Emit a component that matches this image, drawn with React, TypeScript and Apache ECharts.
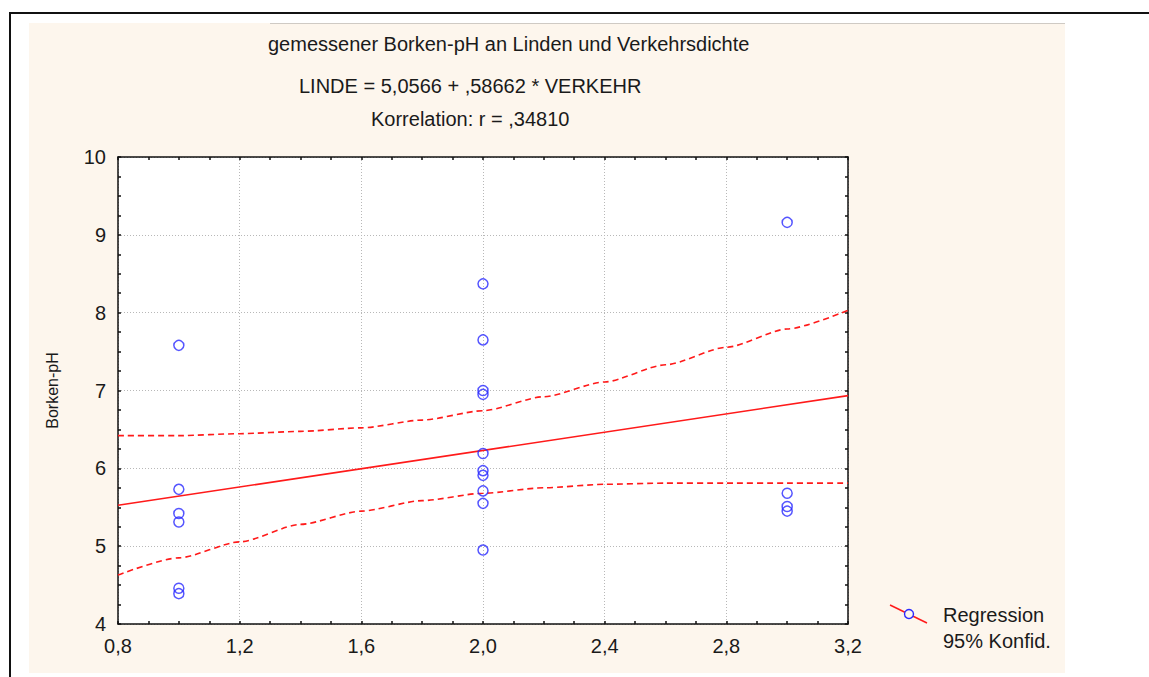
import React, { useEffect, useRef } from "react";
import * as echarts from "echarts";

// Header text
const titleLines = [
  "gemessener Borken-pH an Linden und Verkehrsdichte",
  "LINDE = 5,0566 + ,58662 * VERKEHR",
  "Korrelation: r = ,34810",
];

// Regression coefficients as printed in the header
const intercept = 5.0566;
const slope = 0.58662;

// Observations: traffic class vs. bark pH
const verkehr = [1, 1, 1, 1, 1, 1, 2, 2, 2, 2, 2, 2, 2, 2, 2, 2, 3, 3, 3, 3];
const borkenPH = [
  7.58, 5.73, 5.42, 5.31, 4.46, 4.39,
  8.37, 7.65, 7.0, 6.95, 6.19, 5.97, 5.91, 5.71, 5.55, 4.95,
  9.16, 5.68, 5.51, 5.45,
];

// 95% confidence band
const bandX = [0.8, 1.0, 1.2, 1.4, 1.6, 1.8, 2.0, 2.2, 2.4, 2.6, 2.8, 3.0, 3.2];
const bandUpper = [6.42, 6.42, 6.445, 6.475, 6.52, 6.62, 6.74, 6.92, 7.11, 7.33, 7.555, 7.79, 8.03];
const bandLower = [4.63, 4.85, 5.055, 5.28, 5.45, 5.585, 5.68, 5.75, 5.795, 5.81, 5.81, 5.81, 5.81];

// Axis ranges
const xRange = { min: 0.8, max: 3.2, step: 0.4 };
const yRange = { min: 4, max: 10, step: 1 };
const yAxisName = "Borken-pH";
const legendLabels = ["Regression", "95% Konfid."];

const FONT = '"Liberation Sans", Arial, sans-serif';
const RED = "#ff1a1a";
const BLUE = "#2a2aff";
const BEIGE = "#fdf6ed";
const INK = "#1a1a1a";

const fmtX = (v: number) => v.toFixed(1).replace(".", ",");

export default function App() {
  const ref = useRef<HTMLDivElement>(null);

  useEffect(() => {
    if (!ref.current) return;
    const chart = echarts.init(ref.current, undefined, { renderer: "svg" });

    const frameAxis = (extra: any) => ({
      type: "value",
      axisLine: { show: true, onZero: false, lineStyle: { color: "#111", width: 1.5 } },
      axisTick: { show: true, inside: true, length: 3, lineStyle: { color: "#111", width: 1.5 } },
      minorTick: { show: true, splitNumber: 4, length: 3, lineStyle: { color: "#111", width: 1.5 } },
      ...extra,
    });

    const option: any = {
      animation: false,
      backgroundColor: "#ffffff",
      title: titleLines.map((t, i) => ({
        text: t,
        left: [268, 299, 371][i],
        top: [34, 76, 109][i],
        padding: 0,
        textStyle: { fontSize: 20, fontWeight: "normal", color: INK, fontFamily: FONT },
      })),
      grid: {
        left: 118,
        right: 301,
        top: 157,
        bottom: 53,
        show: true,
        backgroundColor: "#ffffff",
        borderWidth: 0,
      },
      xAxis: [
        frameAxis({
          min: xRange.min,
          max: xRange.max,
          interval: xRange.step,
          position: "bottom",
          axisLabel: { formatter: fmtX, fontSize: 20, color: INK, margin: 12, fontFamily: FONT },
          splitLine: { show: true, lineStyle: { color: "#b8b8b8", type: [1, 2], width: 1 } },
        }),
        frameAxis({
          min: xRange.min,
          max: xRange.max,
          interval: xRange.step,
          position: "top",
          axisLabel: { show: false },
          splitLine: { show: false },
        }),
      ],
      yAxis: [
        frameAxis({
          min: yRange.min,
          max: yRange.max,
          interval: yRange.step,
          position: "left",
          name: yAxisName,
          nameLocation: "middle",
          nameRotate: 90,
          nameGap: 58,
          nameTextStyle: { fontSize: 16, color: INK, fontFamily: FONT },
          axisLabel: { fontSize: 20, color: INK, margin: 12, fontFamily: FONT },
          splitLine: { show: true, lineStyle: { color: "#b8b8b8", type: [1, 2], width: 1 } },
        }),
        frameAxis({
          min: yRange.min,
          max: yRange.max,
          interval: yRange.step,
          position: "right",
          axisLabel: { show: false },
          splitLine: { show: false },
        }),
      ],
      series: [
        {
          type: "line",
          data: bandX.map((x, i) => [x, bandUpper[i]]),
          showSymbol: false,
          smooth: 0.25,
          smoothMonotone: "x",
          silent: true,
          lineStyle: { color: RED, width: 1.6, type: [6, 4] },
          z: 2,
        },
        {
          type: "line",
          data: bandX.map((x, i) => [x, bandLower[i]]),
          showSymbol: false,
          smooth: 0.25,
          smoothMonotone: "x",
          silent: true,
          lineStyle: { color: RED, width: 1.6, type: [6, 4] },
          z: 2,
        },
        {
          type: "line",
          data: [xRange.min, xRange.max].map((x) => [x, intercept + slope * x]),
          showSymbol: false,
          silent: true,
          lineStyle: { color: RED, width: 1.6 },
          z: 3,
        },
        {
          type: "scatter",
          data: verkehr.map((x, i) => [x, borkenPH[i]]),
          symbol: "circle",
          symbolSize: 10,
          itemStyle: { color: "rgba(0,0,0,0)", borderColor: BLUE, borderWidth: 1.5 },
          z: 5,
        },
      ],
      graphic: [
        // panel background and outer frame
        { type: "rect", z: -10, shape: { x: 29, y: 23, width: 1036, height: 650 }, style: { fill: BEIGE } },
        { type: "line", z: -9, shape: { x1: 270, y1: 23.5, x2: 1065, y2: 23.5 }, style: { stroke: "#cfcac4", lineWidth: 1 } },
        { type: "line", z: 10, shape: { x1: 10, y1: 13, x2: 1149, y2: 13 }, style: { stroke: "#111", lineWidth: 2 } },
        { type: "line", z: 10, shape: { x1: 10, y1: 12, x2: 10, y2: 677 }, style: { stroke: "#111", lineWidth: 2 } },
        // legend key
        { type: "line", z: 10, shape: { x1: 890, y1: 605, x2: 927, y2: 623 }, style: { stroke: RED, lineWidth: 1.5 } },
        { type: "circle", z: 11, shape: { cx: 909, cy: 614, r: 4.5 }, style: { fill: BEIGE, stroke: BLUE, lineWidth: 1.4 } },
        {
          type: "text",
          z: 10,
          x: 943,
          y: 615,
          style: { text: legendLabels[0], fontSize: 20, fill: INK, fontFamily: FONT, verticalAlign: "middle" },
        },
        {
          type: "text",
          z: 10,
          x: 943,
          y: 641,
          style: { text: legendLabels[1], fontSize: 20, fill: INK, fontFamily: FONT, verticalAlign: "middle" },
        },
      ],
    };

    chart.setOption(option);
    return () => chart.dispose();
  }, []);

  return (
    <div
      ref={ref}
      style={{ position: "absolute", left: 0, top: 0, width: 1149, height: 677 }}
    />
  );
}
